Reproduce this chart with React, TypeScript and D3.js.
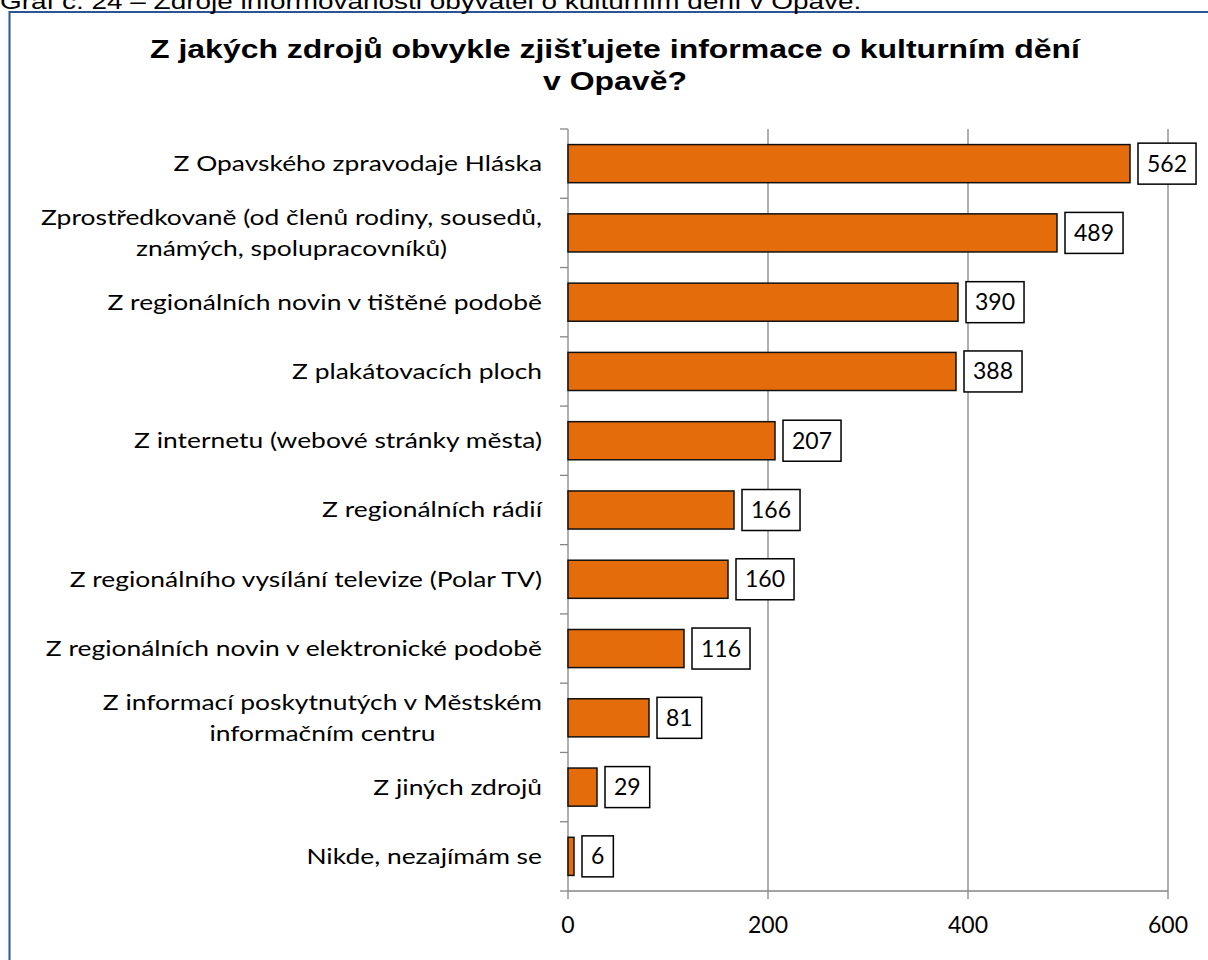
import React, { useEffect, useRef } from "react";
import * as d3 from "d3";

const caption = "Graf č. 24 – Zdroje informovanosti obyvatel o kulturním dění v Opavě.";
const titleLines = [
  "Z jakých zdrojů obvykle zjišťujete informace o kulturním dění",
  "v Opavě?",
];
const categories = [
  "Z Opavského zpravodaje Hláska",
  "Zprostředkovaně (od členů rodiny, sousedů, známých, spolupracovníků)",
  "Z regionálních novin v tištěné podobě",
  "Z plakátovacích ploch",
  "Z internetu (webové stránky města)",
  "Z regionálních rádií",
  "Z regionálního vysílání televize (Polar TV)",
  "Z regionálních novin v elektronické podobě",
  "Z informací poskytnutých v Městském informačním centru",
  "Z jiných zdrojů",
  "Nikde, nezajímám se",
];
const values = [562, 489, 390, 388, 207, 166, 160, 116, 81, 29, 6];
const xTicks = [0, 200, 400, 600];

const LABEL_FONT = "Lato, 'Open Sans', sans-serif";
const TITLE_FONT = "'Liberation Sans', Arial, sans-serif";
const STRETCH = 1.24;

export default function App() {
  const ref = useRef<SVGSVGElement>(null);

  useEffect(() => {
    const svg = d3.select(ref.current);
    svg.selectAll("*").remove();

    const left = 568, right = 1168, top = 129, bottom = 891;
    const x = d3.scaleLinear().domain([0, 600]).range([left, right]);
    const y = d3
      .scaleBand<string>()
      .domain(categories)
      .range([top, bottom])
      .paddingInner(0.45)
      .paddingOuter(0.225);
    const step = (bottom - top) / categories.length;

    // outer border
    svg.append("rect")
      .attr("x", 9.5).attr("y", 12).attr("width", 1400).attr("height", 1100)
      .attr("fill", "none").attr("stroke", "#2B5594").attr("stroke-width", 2);

    // caption (cut off at top)
    svg.append("text")
      .attr("transform", `translate(0,9) scale(1.27,1)`)
      .attr("x", 0).attr("y", 0)
      .attr("font-family", TITLE_FONT).attr("font-size", 22)
      .attr("fill", "#000").text(caption);

    // title
    svg.append("g").selectAll("text").data(titleLines).join("text")
      .attr("transform", (_, i) => `translate(615,${58 + i * 32}) scale(1.23,1)`)
      .attr("x", 0).attr("y", 0)
      .attr("text-anchor", "middle")
      .attr("font-family", TITLE_FONT).attr("font-weight", "bold").attr("font-size", 26)
      .attr("fill", "#000").text((d) => d);

    const grid = "#868686";
    // gridlines
    svg.append("g").selectAll("line").data(xTicks.filter((t) => t > 0)).join("line")
      .attr("x1", (d) => x(d)).attr("x2", (d) => x(d))
      .attr("y1", top).attr("y2", bottom)
      .attr("stroke", grid).attr("stroke-width", 1.3);

    // y axis
    svg.append("line").attr("x1", left).attr("x2", left).attr("y1", top).attr("y2", bottom)
      .attr("stroke", grid).attr("stroke-width", 1.3);
    svg.append("g").selectAll("line").data(d3.range(categories.length + 1)).join("line")
      .attr("x1", left - 8).attr("x2", left)
      .attr("y1", (i) => top + i * step).attr("y2", (i) => top + i * step)
      .attr("stroke", grid).attr("stroke-width", 1.3);

    // x axis
    svg.append("line").attr("x1", left).attr("x2", right).attr("y1", bottom).attr("y2", bottom)
      .attr("stroke", grid).attr("stroke-width", 1.3);
    svg.append("g").selectAll("line").data(xTicks).join("line")
      .attr("x1", (d) => x(d)).attr("x2", (d) => x(d))
      .attr("y1", bottom).attr("y2", bottom + 8)
      .attr("stroke", grid).attr("stroke-width", 1.3);
    svg.append("g").selectAll("text").data(xTicks).join("text")
      .attr("x", (d) => x(d)).attr("y", 933)
      .attr("text-anchor", "middle")
      .attr("font-family", LABEL_FONT).attr("font-size", 23)
      .attr("fill", "#000").text((d) => String(d));

    // bars
    svg.append("g").selectAll("rect").data(values).join("rect")
      .attr("x", x(0))
      .attr("y", (_, i) => y(categories[i])!)
      .attr("width", (d) => x(d) - x(0))
      .attr("height", y.bandwidth())
      .attr("fill", "#E46C0A")
      .attr("stroke", "#111").attr("stroke-width", 1.5);

    // category labels with wrapping (horizontally stretched like the reference)
    const maxW = 515 / STRETCH;
    const labelG = svg.append("g");
    categories.forEach((c) => {
      const cy = y(c)! + y.bandwidth() / 2;
      const t = labelG.append("text")
        .attr("transform", `translate(542,0) scale(${STRETCH},1)`)
        .attr("font-family", LABEL_FONT).attr("font-size", 21.3).attr("fill", "#000");
      const words = c.split(" ");
      const lines: string[] = [];
      let cur = "";
      const probe = t.append("tspan");
      words.forEach((w) => {
        const test = cur ? cur + " " + w : w;
        probe.text(test);
        if ((probe.node() as SVGTSpanElement).getComputedTextLength() > maxW && cur) {
          lines.push(cur);
          cur = w;
        } else cur = test;
      });
      lines.push(cur);
      probe.remove();
      const widths = lines.map((l) => {
        const p = t.append("tspan").text(l);
        const w = (p.node() as SVGTSpanElement).getComputedTextLength();
        p.remove();
        return w;
      });
      const blockW = Math.max(...widths);
      const lh = 31;
      lines.forEach((l, k) => {
        t.append("tspan")
          .attr("x", -blockW / 2).attr("text-anchor", "middle")
          .attr("y", cy + (k - (lines.length - 1) / 2) * lh + 7.5)
          .text(l);
      });
    });

    // value boxes
    const vg = svg.append("g");
    values.forEach((v, i) => {
      const cy = y(categories[i])! + y.bandwidth() / 2;
      const g = vg.append("g");
      const rect = g.append("rect");
      const t = g.append("text")
        .attr("font-family", LABEL_FONT).attr("font-size", 23).attr("fill", "#000")
        .attr("y", cy + 8).text(String(v));
      const tw = (t.node() as SVGTextElement).getComputedTextLength();
      const pad = 9;
      const bx = x(v) + 8;
      t.attr("x", bx + pad);
      rect.attr("x", bx).attr("y", cy - 20.5).attr("width", tw + 2 * pad).attr("height", 41)
        .attr("fill", "#fff").attr("stroke", "#000").attr("stroke-width", 1.5);
    });
  }, []);

  return (
    <svg
      ref={ref}
      width={1208}
      height={960}
      style={{ position: "absolute", left: 0, top: 0, background: "#fff" }}
    />
  );
}
